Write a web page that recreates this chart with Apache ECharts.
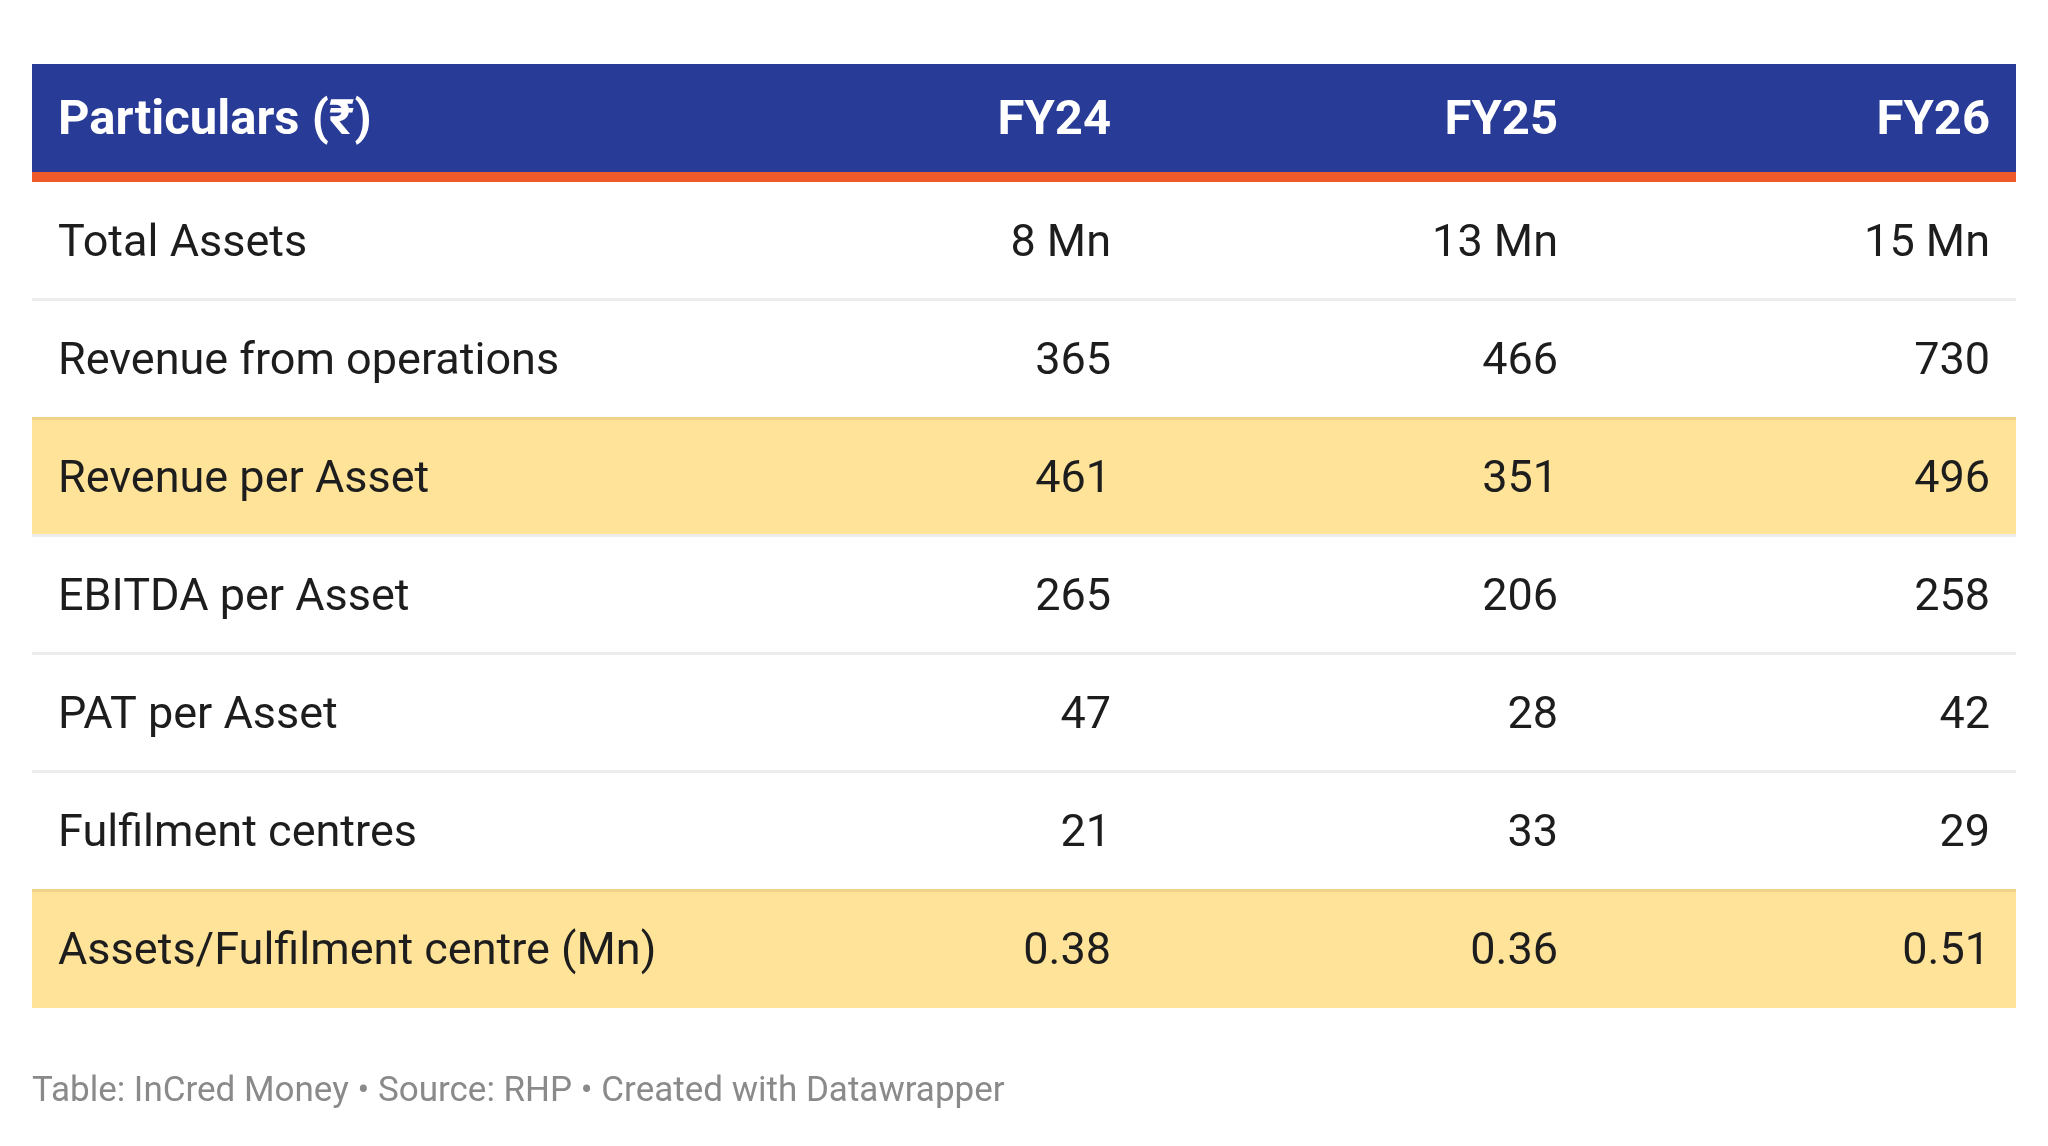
<!DOCTYPE html>
<html>
<head>
<meta charset="utf-8">
<script src="https://cdn.jsdelivr.net/npm/echarts@6/dist/echarts.min.js"></script>
<style>
  html, body { margin: 0; padding: 0; background: #ffffff; }
  #chart { width: 2048px; height: 1146px; }
</style>
</head>
<body>
<div id="chart"></div>
<script>
// ---- data ----
const headerLabels = ['Particulars (₹)', 'FY24', 'FY25', 'FY26'];
const rowLabels = [
  'Total Assets',
  'Revenue from operations',
  'Revenue per Asset',
  'EBITDA per Asset',
  'PAT per Asset',
  'Fulfilment centres',
  'Assets/Fulfilment centre (Mn)'
];
const fy24 = [8, 365, 461, 265, 47, 21, 0.38];
const fy25 = [13, 466, 351, 206, 28, 33, 0.36];
const fy26 = [15, 730, 496, 258, 42, 29, 0.51];
const valueUnits = [' Mn', '', '', '', '', '', ''];
const valueDecimals = [0, 0, 0, 0, 0, 0, 2];
const highlightedRows = ['Revenue per Asset', 'Assets/Fulfilment centre (Mn)'];
const footerText = 'Table: InCred Money • Source: RHP • Created with Datawrapper';

// ---- layout / style ----
const FONT = 'Roboto, "Noto Sans", sans-serif';
const TABLE_WIDTH = 1984;
const labelX = 26;
const colRightX = [1079, 1526, 1958];
const columns = [fy24, fy25, fy26];

function fmt(v, i) {
  return v.toFixed(valueDecimals[i]) + valueUnits[i];
}

const yCats = ['__header__'].concat(rowLabels);

const chart = echarts.init(document.getElementById('chart'), null, { renderer: 'canvas' });

function renderRow(params, api) {
  const r = api.value(1);
  const c = api.coord([0, r]);
  const h = api.size([0, 1])[1];
  const w = api.size([TABLE_WIDTH, 0])[0];
  const x0 = c[0];
  const top = c[1] - h / 2;
  const mid = c[1];
  const children = [];
  if (r === 0) {
    children.push({ type: 'rect', shape: { x: x0, y: top, width: w, height: h - 10 }, style: { fill: '#283b96' } });
    children.push({ type: 'rect', shape: { x: x0, y: top + h - 10, width: w, height: 10 }, style: { fill: '#ef5a2b' } });
    children.push({ type: 'text', style: { x: x0 + labelX, y: mid - 1, text: headerLabels[0], fill: '#ffffff', font: 'bold 49px ' + FONT, textAlign: 'left', verticalAlign: 'middle' } });
    for (let k = 0; k < 3; k++) {
      children.push({ type: 'text', style: { x: x0 + colRightX[k], y: mid - 1, text: headerLabels[k + 1], fill: '#ffffff', font: 'bold 49px ' + FONT, textAlign: 'right', verticalAlign: 'middle' } });
    }
    return { type: 'group', children: children };
  }
  const i = r - 1;
  const label = rowLabels[i];
  const hl = highlightedRows.indexOf(label) >= 0;
  if (hl) {
    children.push({ type: 'rect', shape: { x: x0, y: top, width: w, height: h }, style: { fill: '#fee398' } });
    children.push({ type: 'rect', shape: { x: x0, y: top - 1, width: w, height: 3 }, style: { fill: '#efd487' } });
  }
  if (i < rowLabels.length - 1) {
    const nextHl = highlightedRows.indexOf(rowLabels[i + 1]) >= 0;
    if (!nextHl) {
      children.push({ type: 'rect', shape: { x: x0, y: top + h - 2, width: w, height: 3 }, style: { fill: '#ececec' } });
    }
  }
  children.push({ type: 'text', style: { x: x0 + labelX, y: mid + 4, text: label, fill: '#1d1d1d', font: '45px ' + FONT, textAlign: 'left', verticalAlign: 'middle' } });
  for (let k = 0; k < 3; k++) {
    children.push({ type: 'text', style: { x: x0 + colRightX[k], y: mid + 4, text: fmt(columns[k][i], i), fill: '#1d1d1d', font: '45px ' + FONT, textAlign: 'right', verticalAlign: 'middle' } });
  }
  return { type: 'group', children: children };
}

chart.setOption({
  animation: false,
  backgroundColor: '#ffffff',
  title: {
    text: footerText,
    left: 32,
    top: 1075,
    padding: 0,
    textStyle: { fontFamily: FONT, fontSize: 35, fontWeight: 'normal', color: '#8a8a8a' }
  },
  grid: { left: 32, top: 64, width: TABLE_WIDTH, height: 944 },
  xAxis: { type: 'value', min: 0, max: TABLE_WIDTH, show: false },
  yAxis: { type: 'category', data: yCats, inverse: true, show: false },
  series: [{
    type: 'custom',
    clip: false,
    renderItem: renderRow,
    encode: { x: 0, y: 1 },
    data: yCats.map((_, idx) => [0, idx])
  }]
});
</script>
</body>
</html>
